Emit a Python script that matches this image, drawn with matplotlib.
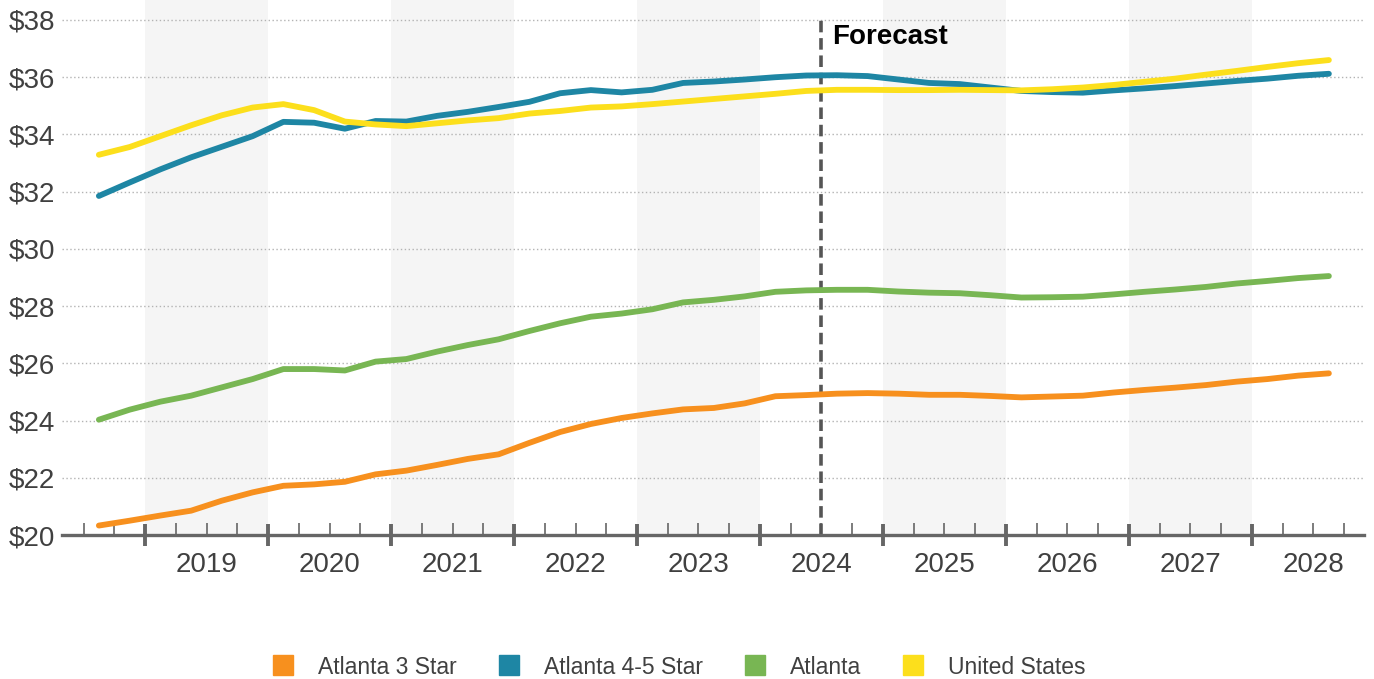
import matplotlib
matplotlib.use("Agg")
import matplotlib.pyplot as plt
from matplotlib.lines import Line2D
from matplotlib.ticker import FixedLocator, NullFormatter

# ---------------- data (quarterly, 2018 Q3 .. 2028 Q3) ----------------
start_year = 2018
start_quarter = 3
n_points = 41

atlanta_3_star = [20.33, 20.50, 20.68, 20.85, 21.20, 21.49, 21.72, 21.77, 21.86, 22.12,
                  22.25, 22.45, 22.66, 22.82, 23.22, 23.60, 23.88, 24.09, 24.25, 24.39,
                  24.44, 24.60, 24.85, 24.89, 24.94, 24.96, 24.94, 24.90, 24.90, 24.86,
                  24.81, 24.84, 24.87, 24.98, 25.07, 25.15, 25.24, 25.36, 25.45, 25.57,
                  25.65]
atlanta_4_5_star = [31.85, 32.32, 32.78, 33.20, 33.57, 33.94, 34.44, 34.41, 34.20, 34.47,
                    34.45, 34.65, 34.79, 34.96, 35.14, 35.44, 35.55, 35.47, 35.56, 35.80,
                    35.85, 35.92, 36.00, 36.06, 36.07, 36.04, 35.92, 35.80, 35.76, 35.64,
                    35.52, 35.48, 35.46, 35.54, 35.61, 35.69, 35.78, 35.87, 35.95, 36.05,
                    36.12]
atlanta = [24.03, 24.38, 24.66, 24.87, 25.16, 25.45, 25.80, 25.80, 25.75, 26.06,
           26.15, 26.41, 26.64, 26.84, 27.13, 27.40, 27.63, 27.74, 27.89, 28.13,
           28.22, 28.34, 28.50, 28.55, 28.57, 28.57, 28.51, 28.47, 28.45, 28.38,
           28.30, 28.31, 28.33, 28.41, 28.50, 28.58, 28.67, 28.79, 28.88, 28.98,
           29.05]
united_states = [33.29, 33.56, 33.94, 34.32, 34.67, 34.94, 35.06, 34.85, 34.45, 34.35,
                 34.29, 34.39, 34.49, 34.57, 34.73, 34.82, 34.94, 34.98, 35.06, 35.15,
                 35.24, 35.33, 35.42, 35.52, 35.56, 35.56, 35.55, 35.55, 35.56, 35.55,
                 35.54, 35.58, 35.64, 35.73, 35.84, 35.95, 36.09, 36.22, 36.36, 36.49,
                 36.60]

series_names = ["Atlanta 3 Star", "Atlanta 4-5 Star", "Atlanta", "United States"]
series_values = [atlanta_3_star, atlanta_4_5_star, atlanta, united_states]
series_colors = ["#F7901E", "#1E86A4", "#78B653", "#FCDF1C"]

year_labels = [2019, 2020, 2021, 2022, 2023, 2024, 2025, 2026, 2027, 2028]
shaded_years = [2019, 2021, 2023, 2025, 2027]
y_ticks = [20, 22, 24, 26, 28, 30, 32, 34, 36, 38]
forecast_x = 2024.5
forecast_label = "Forecast"

# x positions: middle of each quarter
x = [start_year + (start_quarter - 1 + i + 0.5) / 4.0 for i in range(n_points)]

# ---------------- figure ----------------
W, H = 1374, 679
fig = plt.figure(figsize=(W / 100, H / 100), dpi=100)
plt.rcParams['font.family'] = ['Liberation Sans', 'DejaVu Sans']

ax_left, ax_right, ax_top, ax_bottom = 62, 1364, 0, 535
ax = fig.add_axes([ax_left / W, 1 - ax_bottom / H,
                   (ax_right - ax_left) / W, (ax_bottom - ax_top) / H])

px_per_unit = 515 / 18.0
ax.set_ylim(20, 20 + (ax_bottom - ax_top) / px_per_unit)
x_left = 2019 - (145 - ax_left) / 123.0
x_right = 2019 + (ax_right - 145) / 123.0
ax.set_xlim(x_left, x_right)

# shaded alternate years
for yr in shaded_years:
    ax.axvspan(yr, yr + 1, color="#f5f5f5", lw=0, zorder=0)

# gridlines
for yv in y_ticks[1:]:
    ax.axhline(yv, color="#b3b3b3", lw=1.0, ls=(0, (1, 1.8)), zorder=1)

# forecast line
ax.plot([forecast_x, forecast_x], [20, 38], color="#555555", lw=2.6,
        ls=(0, (3.2, 1.6)), zorder=2)
ax.text(2019 + (832 - 145) / 123.0, 20 + (535 - 37) / px_per_unit, forecast_label,
        fontsize=20, fontweight="bold", color="#000000", ha="left", va="center")

# series
for name, vals, col in zip(series_names, series_values, series_colors):
    ax.plot(x, vals, color=col, lw=4.2, solid_capstyle="round",
            solid_joinstyle="round", zorder=3, label=name)

# axes styling
for s in ["top", "right", "left"]:
    ax.spines[s].set_visible(False)
ax.spines["bottom"].set_color("#666666")
ax.spines["bottom"].set_linewidth(2.4)
ax.spines["bottom"].set_zorder(4)

ax.set_yticks(y_ticks)
ax.set_yticklabels([f"${v}" for v in y_ticks])
ax.tick_params(axis="y", length=0, pad=5, labelsize=20, labelcolor="#404040")

major = [yr for yr in range(2019, 2029)]
minor = [q / 4.0 for q in range(int(x_left * 4) + 1, int(x_right * 4) + 1)
         if q % 4 != 0]
ax.xaxis.set_major_locator(FixedLocator(major))
ax.xaxis.set_minor_locator(FixedLocator(minor))
ax.xaxis.set_major_formatter(NullFormatter())
ax.xaxis.set_minor_formatter(NullFormatter())
ax.tick_params(axis="x", which="major", direction="inout", length=16.5,
               width=2.8, color="#666666")
ax.tick_params(axis="x", which="minor", direction="in", length=8.5,
               width=1.2, color="#666666")

for yr in year_labels:
    ax.text(yr + 0.5, 20 - (565 - 535) / px_per_unit, str(yr), ha="center",
            va="center", fontsize=20, color="#404040", clip_on=False)

# legend
handles = [Line2D([], [], marker="s", ls="none", markersize=14,
                  markerfacecolor=c, markeredgecolor=c) for c in series_colors]
leg = fig.legend(handles, series_names, loc="center",
                 bbox_to_anchor=(680 / W, 1 - 667 / H), ncol=4, frameon=False,
                 fontsize=16.5, handlelength=0.8, handletextpad=1.13,
                 columnspacing=1.87, labelcolor="#404040")

fig.savefig("out.png", dpi=100)
